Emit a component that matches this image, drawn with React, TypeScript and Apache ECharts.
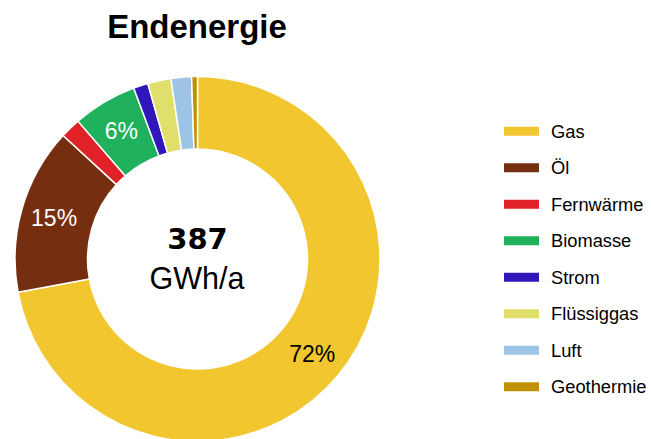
import React, { useEffect, useRef } from "react";
import * as echarts from "echarts";

const categories = ["Gas", "Öl", "Fernwärme", "Biomasse", "Strom", "Flüssiggas", "Luft", "Geothermie"];
const values = [279, 57, 7, 22, 5, 8, 7, 2];
const colors = ["#F2C62F", "#762E10", "#E02127", "#20B15D", "#2F17B9", "#E0DF6B", "#9DC3E6", "#BF9000"];
const labelColors = ["#000000", "#ffffff", "#ffffff", "#ffffff", "#ffffff", "#ffffff", "#ffffff", "#ffffff"];
const titleText = "Endenergie";
const totalText = "387";
const unitText = "GWh/a";

export default function App() {
  const ref = useRef<HTMLDivElement>(null);
  useEffect(() => {
    document.body.style.margin = "0";
    const chart = echarts.init(ref.current!, undefined, { renderer: "svg" });
    const cx = 197.5;
    const cy = 259;
    chart.setOption({
      animation: false,
      color: colors,
      title: {
        text: titleText,
        left: cx - 5.5,
        top: 5,
        textAlign: "center",
        textStyle: { fontFamily: "Liberation Sans", fontWeight: "bold", fontSize: 33, color: "#000" },
      },
      legend: {
        orient: "vertical",
        left: 497,
        top: 117,
        itemWidth: 37,
        itemHeight: 11,
        itemGap: 18.2,
        icon: "rect",
        data: categories,
        textStyle: { fontFamily: "Liberation Sans", fontSize: 18.3, lineHeight: 18.3, color: "#000", padding: [0, 0, 0, 6] },
      },
      graphic: [
        {
          type: "text",
          x: cx,
          y: 238.5,
          style: { text: totalText, fontFamily: "DejaVu Sans", fontWeight: "bold", fontSize: 29, fill: "#000", align: "center", verticalAlign: "middle" },
        },
        {
          type: "text",
          x: cx - 0.5,
          y: 278,
          style: { text: unitText, fontFamily: "Liberation Sans", fontSize: 30.5, fill: "#000", align: "center", verticalAlign: "middle" },
        },
      ],
      series: [
        {
          type: "pie",
          center: [cx, cy],
          radius: [110, 182.5],
          startAngle: 90,
          clockwise: true,
          avoidLabelOverlap: false,
          itemStyle: { borderColor: "#fff", borderWidth: 1.5 },
          label: {
            show: true,
            position: "inside",
            fontFamily: "Liberation Sans",
            fontSize: 23,
            formatter: (p: any) => (p.percent >= 5 ? `${Math.round(p.percent)}%` : ""),
          },
          labelLine: { show: false },
          emphasis: { disabled: true },
          data: categories.map((name, i) => ({
            name,
            value: values[i],
            label: { color: labelColors[i] },
          })),
        },
      ],
    });
    return () => chart.dispose();
  }, []);
  return <div ref={ref} style={{ width: 651, height: 439 }} />;
}
